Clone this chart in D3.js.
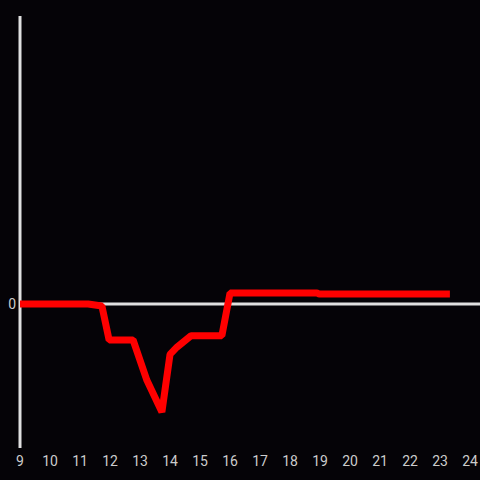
<!DOCTYPE html>
<html><head><meta charset="utf-8">
<script src="https://cdn.jsdelivr.net/npm/d3@7"></script>
<style>html,body{margin:0;padding:0;background:#050307;}</style>
</head><body>
<script>
const hours = [9, 11.27, 11.73, 11.97, 12.77, 13.23, 13.73, 14.0, 14.23, 14.7, 15.73, 16.0, 18.9, 18.97, 23.33];
const values = [0, 0, -0.014, -0.25, -0.25, -0.53, -0.75, -0.35, -0.3, -0.22, -0.22, 0.076, 0.076, 0.07, 0.07];
const xTicks = [9,10,11,12,13,14,15,16,17,18,19,20,21,22,23,24];
const yTicks = [0];

const W = 480, H = 480;
const svg = d3.select("body").append("svg").attr("width", W).attr("height", H)
  .style("background", "#050307");
const x = d3.scaleLinear().domain([9, 24]).range([20, 470]);
const y = d3.scaleLinear().domain([-1, 2]).range([448, 16]);

// y axis line
svg.append("line").attr("x1", x(9)).attr("x2", x(9)).attr("y1", y(2)).attr("y2", y(-1))
  .attr("stroke", "#e0e0e0").attr("stroke-width", 3);
// zero line
svg.append("line").attr("x1", x(9)).attr("x2", W).attr("y1", y(0)).attr("y2", y(0))
  .attr("stroke", "#e0e0e0").attr("stroke-width", 3);

svg.selectAll("text.xt").data(xTicks).enter().append("text")
  .attr("class", "xt").attr("x", d => x(d)).attr("y", 466)
  .attr("text-anchor", "middle").attr("fill", "#cccccc")
  .attr("font-family", "Roboto, sans-serif").attr("font-size", 14).text(d => d);
svg.selectAll("text.yt").data(yTicks).enter().append("text")
  .attr("class", "yt").attr("x", 16).attr("y", d => y(d) + 5)
  .attr("text-anchor", "end").attr("fill", "#cccccc")
  .attr("font-family", "Roboto, sans-serif").attr("font-size", 14).text(d => d);

const data = hours.map((h, i) => [h, values[i]]);
svg.append("path").datum(data)
  .attr("d", d3.line().x(d => x(d[0])).y(d => y(d[1])))
  .attr("fill", "none").attr("stroke", "#ff0000").attr("stroke-width", 7)
  .attr("stroke-linejoin", "bevel");
</script>
</body></html>
